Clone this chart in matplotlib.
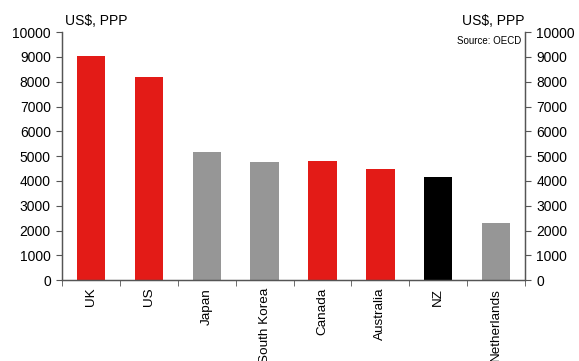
import matplotlib
matplotlib.use("Agg")
import matplotlib.pyplot as plt
import numpy as np

plt.rcParams['font.family'] = ['Liberation Sans', 'DejaVu Sans']

countries = ["UK", "US", "Japan", "South Korea", "Canada", "Australia", "NZ", "Netherlands"]
values = [9030, 8210, 5150, 4770, 4790, 4500, 4150, 2300]
colors = ["#e31b17", "#e31b17", "#969696", "#969696", "#e31b17", "#e31b17", "#000000", "#969696"]
yticks = list(range(0, 10001, 1000))

fig = plt.figure(figsize=(5.79, 3.61), dpi=100)
ax = fig.add_axes([0.107, 0.224, 0.800, 0.687])
x = np.arange(len(countries))
ax.bar(x, values, width=0.49, color=colors, zorder=2)

ax.set_xlim(-0.5, len(countries) - 0.5)
ax.set_ylim(0, 10000)
ax.set_yticks(yticks)
ax.set_yticklabels([str(v) for v in yticks], fontsize=10)
ax.set_xticks(x)
ax.set_xticklabels(countries, rotation=90, fontsize=9.7)
ax.tick_params(axis='x', length=0, pad=5.5)
ax.set_xticks(np.arange(-0.5, len(countries) + 0.5, 1), minor=True)
ax.tick_params(axis='x', which='minor', length=4, color='#555555')
ax.tick_params(axis='y', length=4, color='#555555', pad=4)

ax.spines['top'].set_visible(False)
for s in ['left', 'right', 'bottom']:
    ax.spines[s].set_color('#555555')
    ax.spines[s].set_linewidth(0.9)

ax2 = ax.twinx()
ax2.set_ylim(0, 10000)
ax2.set_yticks(yticks)
ax2.set_yticklabels([str(v) for v in yticks], fontsize=10)
ax2.tick_params(axis='y', length=4, color='#555555', pad=4)
ax2.spines['top'].set_visible(False)
for s in ['left', 'right', 'bottom']:
    ax2.spines[s].set_color('#555555')
    ax2.spines[s].set_linewidth(0.9)

fig.text(0.113, 0.942, "US$, PPP", fontsize=10, ha='left', va='center')
fig.text(0.906, 0.942, "US$, PPP", fontsize=10, ha='right', va='center')
fig.text(0.900, 0.886, "Source: OECD", fontsize=7, ha='right', va='center')

fig.savefig("out.png", dpi=100)
